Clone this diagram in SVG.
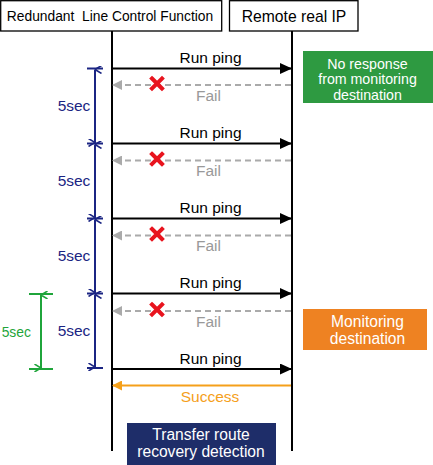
<svg xmlns="http://www.w3.org/2000/svg" width="433" height="465" viewBox="0 0 433 465">
<style>
text{font-family:"Liberation Sans",Arial,sans-serif;}
.hdr{fill:#fff;stroke:#000;stroke-width:1.3}
.life{stroke:#000;stroke-width:2;fill:none}
.ping{stroke:#000;stroke-width:2;fill:none;marker-end:url(#ab)}
.fail{stroke:#aaa;stroke-width:2;stroke-dasharray:6 4;fill:none;marker-end:url(#ag)}
.succ{stroke:#f5a01a;stroke-width:2;fill:none;marker-end:url(#ao)}
.blue{stroke:#1b2583;stroke-width:2;fill:none}
.green{stroke:#1fa53b;stroke-width:2;fill:none}
.lbl{font-size:15.5px;text-anchor:middle}
.x{stroke:#e8141e;stroke-width:4;stroke-linecap:square}
.wt{fill:#fff;font-size:15.6px;text-anchor:middle}
.wg{fill:#fff;font-size:14.2px;text-anchor:middle}
</style>
<defs>
<marker id="ab" markerWidth="12" markerHeight="11" refX="11" refY="5.5" orient="auto" markerUnits="userSpaceOnUse"><path d="M0,0 L12,5.5 L0,11 z" fill="#000"/></marker>
<marker id="ag" markerWidth="10" markerHeight="10" refX="9" refY="5" orient="auto" markerUnits="userSpaceOnUse"><path d="M0,0 L10,5 L0,10 z" fill="#aaa"/></marker>
<marker id="ao" markerWidth="10" markerHeight="10" refX="9" refY="5" orient="auto" markerUnits="userSpaceOnUse"><path d="M0,0 L10,5 L0,10 z" fill="#f5a01a"/></marker>
<marker id="bb" markerWidth="8" markerHeight="8" refX="4" refY="0.5" orient="auto-start-reverse" markerUnits="userSpaceOnUse"><path d="M0,7 L4,0.5 L8,7" fill="none" stroke="#1b2583" stroke-width="1.5"/></marker>
<marker id="gb" markerWidth="8" markerHeight="8" refX="4" refY="0.5" orient="auto-start-reverse" markerUnits="userSpaceOnUse"><path d="M0,7 L4,0.5 L8,7" fill="none" stroke="#1fa53b" stroke-width="1.5"/></marker>
</defs>

<g id="node-rlcf">
<rect class="hdr" x="0.7" y="0.7" width="221" height="30.3"/>
<text x="110" y="20.5" font-size="13.8" text-anchor="middle">Redundant &#160;Line Control Function</text>
</g>
<g id="node-remote">
<rect class="hdr" x="229.5" y="0.7" width="128.5" height="30.3"/>
<text x="294" y="21.5" font-size="15.7" text-anchor="middle">Remote real IP</text>
</g>

<g id="lifelines">
<line class="life" x1="112" y1="31" x2="112" y2="451"/>
<line class="life" x1="292" y1="31" x2="292" y2="451"/>
</g>

<g id="connectors">
<line class="ping" x1="112" y1="68.5" x2="291" y2="68.5"/>
<line class="fail" x1="291" y1="85" x2="113" y2="85"/>
<line class="ping" x1="112" y1="143.5" x2="291" y2="143.5"/>
<line class="fail" x1="291" y1="160.5" x2="113" y2="160.5"/>
<line class="ping" x1="112" y1="218.5" x2="291" y2="218.5"/>
<line class="fail" x1="291" y1="235.5" x2="113" y2="235.5"/>
<line class="ping" x1="112" y1="293.5" x2="291" y2="293.5"/>
<line class="fail" x1="291" y1="311" x2="113" y2="311"/>
<line class="ping" x1="112" y1="369" x2="291" y2="369"/>
<line class="succ" x1="291" y1="385.5" x2="113" y2="385.5"/>
</g>

<g id="labels">
<text class="lbl" x="210.5" y="63">Run ping</text>
<text class="lbl" x="210.5" y="138">Run ping</text>
<text class="lbl" x="210.5" y="213">Run ping</text>
<text class="lbl" x="210.5" y="288">Run ping</text>
<text class="lbl" x="210.5" y="364">Run ping</text>
<text class="lbl" x="208.5" y="100.5" fill="#999" font-size="15">Fail</text>
<text class="lbl" x="208.5" y="175.5" fill="#999" font-size="15">Fail</text>
<text class="lbl" x="208.5" y="250.5" fill="#999" font-size="15">Fail</text>
<text class="lbl" x="208.5" y="326.5" fill="#999" font-size="15">Fail</text>
<text class="lbl" x="210" y="402" fill="#f5a01a">Success</text>
</g>

<g id="fail-marks">
<path class="x" d="M152,78.5 L162,88.5 M162,78.5 L152,88.5"/>
<path class="x" d="M152,154 L162,164 M162,154 L152,164"/>
<path class="x" d="M152,229 L162,239 M162,229 L152,239"/>
<path class="x" d="M152,304.5 L162,314.5 M162,304.5 L152,314.5"/>
</g>

<g id="interval-blue">
<line class="blue" x1="87" y1="68.5" x2="103" y2="68.5"/>
<line class="blue" x1="87" y1="143.5" x2="103" y2="143.5"/>
<line class="blue" x1="87" y1="218.5" x2="103" y2="218.5"/>
<line class="blue" x1="87" y1="293.5" x2="103" y2="293.5"/>
<line class="blue" x1="87" y1="368" x2="103" y2="368"/>
<line class="blue" x1="95" y1="69.5" x2="95" y2="142.5" marker-start="url(#bb)" marker-end="url(#bb)"/>
<line class="blue" x1="95" y1="144.5" x2="95" y2="217.5" marker-start="url(#bb)" marker-end="url(#bb)"/>
<line class="blue" x1="95" y1="219.5" x2="95" y2="292.5" marker-start="url(#bb)" marker-end="url(#bb)"/>
<line class="blue" x1="95" y1="294.5" x2="95" y2="367" marker-start="url(#bb)" marker-end="url(#bb)"/>
<text class="lbl" x="74" y="111" fill="#1b2583" font-size="14.7">5sec</text>
<text class="lbl" x="74" y="186" fill="#1b2583" font-size="14.7">5sec</text>
<text class="lbl" x="74" y="261" fill="#1b2583" font-size="14.7">5sec</text>
<text class="lbl" x="74" y="336" fill="#1b2583" font-size="14.7">5sec</text>
</g>

<g id="interval-green">
<line class="green" x1="29" y1="294" x2="53" y2="294"/>
<line class="green" x1="29" y1="369" x2="53" y2="369"/>
<line class="green" x1="41" y1="295" x2="41" y2="368" marker-start="url(#gb)" marker-end="url(#gb)"/>
<text x="16.3" y="336.5" fill="#1fa53b" font-size="13.9" text-anchor="middle">5sec</text>
</g>

<g id="node-no-response">
<rect x="303" y="51" width="130" height="52" fill="#2e9a41"/>
<text class="wg" x="367.5" y="68.5">No response</text>
<text class="wg" x="367.5" y="84">from monitoring</text>
<text class="wg" x="367.5" y="99.5">destination</text>
</g>

<g id="node-monitoring">
<rect x="303" y="309" width="124" height="41" fill="#ee8222"/>
<text class="wt" x="367.5" y="326.5">Monitoring</text>
<text class="wt" x="367.5" y="343.5">destination</text>
</g>

<g id="node-recovery">
<rect x="127" y="423" width="149" height="42" fill="#1e2d69"/>
<text class="wt" x="201" y="440">Transfer route</text>
<text class="wt" x="201" y="456.5">recovery detection</text>
</g>
</svg>
